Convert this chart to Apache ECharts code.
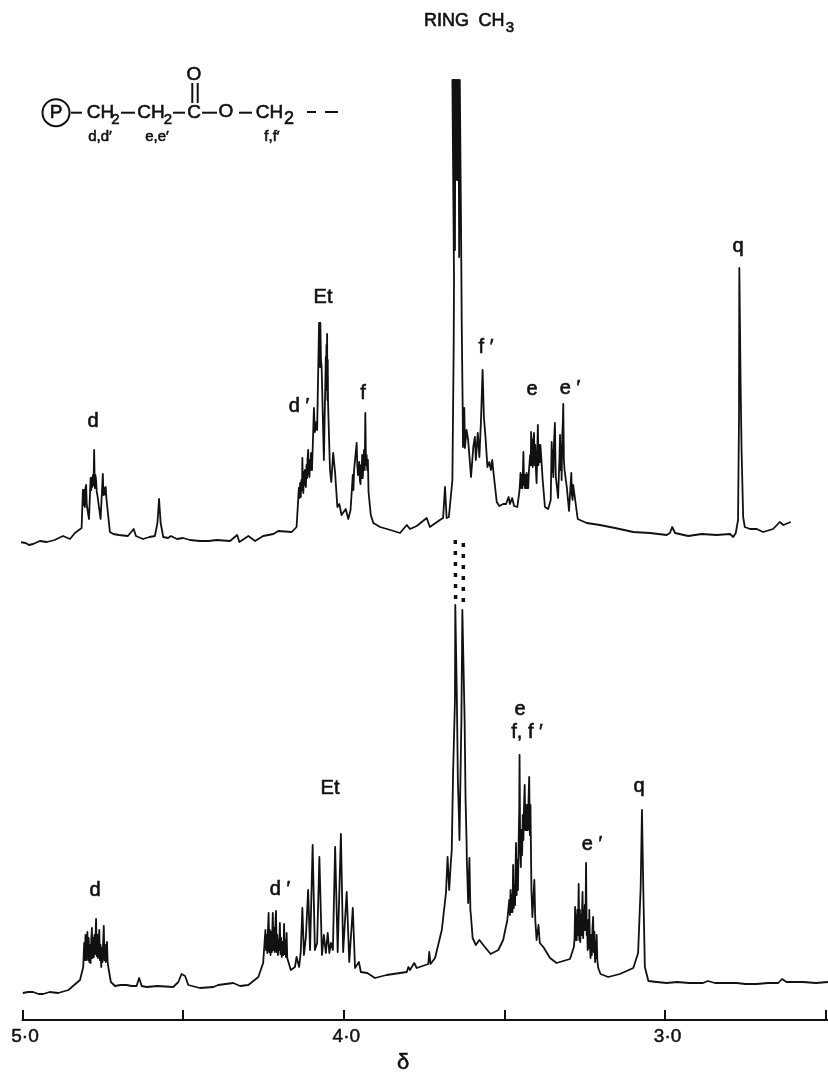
<!DOCTYPE html>
<html><head><meta charset="utf-8">
<style>html,body{margin:0;padding:0;background:#fff}#c{width:828px;height:1072px}</style>
<script src="https://cdn.jsdelivr.net/npm/echarts@6/dist/echarts.min.js"></script></head>
<body><div id="c"></div>
<script>
const tickShifts = [5, 4.5, 4, 3.5, 3, 2.5];
const labelShifts = [5, 4, 3];
const labelTexts = {5: '5·0', 4: '4·0', 3: '3·0'};
const upperTrace = [[5.010,8],[4.990,7],[4.980,5],[4.967,6],[4.946,9],[4.924,8],[4.900,10],[4.874,14],[4.852,11],[4.837,17],[4.816,22],[4.812,60],[4.810,45],[4.808,60],[4.806,43],[4.804,62],[4.802,65],[4.800,45],[4.798,43],[4.793,31],[4.788,72],[4.786,60],[4.785,72],[4.783,63],[4.781,75],[4.779,65],[4.777,100],[4.775,62],[4.773,75],[4.771,70],[4.769,58],[4.767,55],[4.757,31],[4.750,76],[4.748,55],[4.746,53],[4.744,62],[4.742,55],[4.741,63],[4.739,52],[4.737,50],[4.728,18],[4.717,16],[4.700,15],[4.672,14],[4.654,21],[4.647,14],[4.625,11],[4.605,13],[4.588,14],[4.580,27],[4.575,51],[4.570,27],[4.562,13],[4.547,12],[4.538,14],[4.519,11],[4.500,12],[4.479,10],[4.448,9],[4.420,9],[4.396,10],[4.390,8],[4.354,9],[4.332,15],[4.325,8],[4.297,14],[4.276,9],[4.251,14],[4.219,16],[4.204,19],[4.199,17],[4.162,18],[4.147,23],[4.142,50],[4.140,62],[4.138,52],[4.136,67],[4.134,53],[4.132,70],[4.130,60],[4.129,92],[4.127,60],[4.126,57],[4.124,78],[4.122,65],[4.121,80],[4.119,68],[4.118,63],[4.116,85],[4.114,72],[4.113,90],[4.111,100],[4.109,78],[4.107,73],[4.105,90],[4.104,80],[4.102,97],[4.100,85],[4.099,80],[4.096,110],[4.093,142],[4.090,118],[4.087,117],[4.085,128],[4.083,120],[4.077,227],[4.076,190],[4.075,227],[4.074,183],[4.073,227],[4.072,227],[4.071,190],[4.069,183],[4.062,90],[4.056,193],[4.055,160],[4.054,205],[4.053,170],[4.052,216],[4.051,150],[4.050,190],[4.049,147],[4.043,80],[4.039,68],[4.033,97],[4.027,77],[4.020,43],[4.014,46],[4.007,35],[3.994,41],[3.986,31],[3.979,40],[3.972,75],[3.970,60],[3.968,80],[3.966,80],[3.960,107],[3.958,85],[3.956,75],[3.954,78],[3.952,88],[3.950,70],[3.948,66],[3.946,85],[3.944,72],[3.943,95],[3.941,72],[3.939,70],[3.937,100],[3.935,80],[3.933,137],[3.931,85],[3.929,95],[3.927,80],[3.925,90],[3.923,58],[3.916,35],[3.908,27],[3.887,23],[3.855,20],[3.825,17],[3.804,25],[3.794,21],[3.773,24],[3.742,32],[3.732,23],[3.701,30],[3.691,32],[3.685,63],[3.680,32],[3.673,33],[3.662,70],[3.658,203],[3.657,270],[3.659,350],[3.662,470],[3.660,390],[3.659,470],[3.657,380],[3.656,470],[3.654,300],[3.653,470],[3.651,375],[3.650,470],[3.648,370],[3.646,470],[3.645,370],[3.643,470],[3.641,293],[3.639,470],[3.638,470],[3.635,320],[3.633,227],[3.631,170],[3.630,143],[3.628,142],[3.629,103],[3.625,142],[3.623,102],[3.618,120],[3.613,110],[3.604,73],[3.597,103],[3.592,113],[3.589,90],[3.583,117],[3.578,93],[3.573,130],[3.568,180],[3.564,133],[3.559,113],[3.553,83],[3.547,88],[3.542,80],[3.538,90],[3.535,80],[3.524,48],[3.516,44],[3.504,46],[3.495,46],[3.487,53],[3.483,46],[3.476,52],[3.470,44],[3.460,43],[3.454,57],[3.452,65],[3.450,77],[3.448,62],[3.446,75],[3.444,62],[3.442,85],[3.441,98],[3.439,65],[3.437,75],[3.436,62],[3.434,75],[3.432,62],[3.431,77],[3.429,62],[3.427,75],[3.426,62],[3.424,78],[3.421,80],[3.420,95],[3.418,85],[3.417,118],[3.415,85],[3.413,110],[3.412,83],[3.410,110],[3.408,117],[3.406,85],[3.404,105],[3.402,80],[3.400,67],[3.398,95],[3.396,125],[3.394,85],[3.392,105],[3.390,88],[3.388,105],[3.386,107],[3.384,85],[3.381,70],[3.374,43],[3.364,41],[3.356,50],[3.353,108],[3.351,78],[3.349,100],[3.348,73],[3.346,105],[3.343,127],[3.341,85],[3.340,73],[3.333,52],[3.329,90],[3.327,115],[3.325,80],[3.323,105],[3.322,70],[3.320,115],[3.318,130],[3.317,146],[3.315,90],[3.313,80],[3.306,63],[3.299,39],[3.292,77],[3.290,55],[3.288,50],[3.286,65],[3.284,63],[3.279,48],[3.272,31],[3.244,27],[3.203,25],[3.156,22],[3.099,18],[3.047,17],[2.995,15],[2.985,17],[2.978,23],[2.969,17],[2.928,14],[2.886,16],[2.840,15],[2.798,16],[2.788,13],[2.780,17],[2.773,30],[2.770,133],[2.769,282],[2.765,167],[2.762,100],[2.757,33],[2.752,23],[2.736,21],[2.715,21],[2.695,18],[2.664,21],[2.643,28],[2.632,25],[2.609,28]];
const lowerTrace = [[4.999,27],[4.983,28],[4.967,28],[4.950,26],[4.936,26],[4.915,28],[4.889,27],[4.857,30],[4.821,40],[4.811,53],[4.808,77],[4.806,60],[4.804,85],[4.802,60],[4.800,78],[4.798,88],[4.796,60],[4.794,82],[4.792,58],[4.790,75],[4.788,57],[4.786,80],[4.784,92],[4.782,62],[4.780,82],[4.778,63],[4.776,85],[4.774,66],[4.772,90],[4.771,101],[4.769,64],[4.767,85],[4.765,62],[4.763,80],[4.761,90],[4.759,60],[4.757,75],[4.755,53],[4.753,72],[4.751,58],[4.749,78],[4.747,94],[4.745,60],[4.743,75],[4.741,58],[4.739,72],[4.737,78],[4.735,58],[4.733,53],[4.725,38],[4.712,34],[4.695,35],[4.676,35],[4.660,34],[4.645,34],[4.637,42],[4.629,34],[4.613,33],[4.580,34],[4.531,33],[4.515,38],[4.505,46],[4.494,44],[4.484,35],[4.448,32],[4.406,33],[4.391,35],[4.344,37],[4.323,34],[4.297,35],[4.266,43],[4.251,57],[4.244,90],[4.242,70],[4.240,85],[4.238,67],[4.236,90],[4.234,107],[4.232,68],[4.230,90],[4.228,65],[4.226,88],[4.224,68],[4.222,95],[4.221,107],[4.219,70],[4.217,92],[4.215,68],[4.213,95],[4.211,109],[4.209,68],[4.207,85],[4.205,65],[4.203,80],[4.201,70],[4.199,97],[4.197,66],[4.195,82],[4.193,63],[4.191,78],[4.188,65],[4.186,96],[4.184,66],[4.182,80],[4.180,63],[4.178,87],[4.176,62],[4.173,62],[4.165,50],[4.152,53],[4.147,63],[4.139,53],[4.134,68],[4.129,112],[4.124,65],[4.118,83],[4.111,130],[4.105,70],[4.097,175],[4.090,70],[4.083,77],[4.076,163],[4.068,65],[4.062,85],[4.056,67],[4.050,87],[4.045,67],[4.040,77],[4.034,70],[4.027,173],[4.019,68],[4.009,186],[4.002,68],[3.991,128],[3.983,58],[3.972,112],[3.965,52],[3.953,58],[3.947,48],[3.927,47],[3.903,42],[3.867,45],[3.804,48],[3.799,53],[3.794,50],[3.781,57],[3.773,52],[3.737,56],[3.734,68],[3.730,56],[3.716,62],[3.695,90],[3.682,127],[3.677,163],[3.672,130],[3.667,157],[3.664,170],[3.660,245],[3.654,320],[3.653,415],[3.650,415],[3.648,320],[3.645,240],[3.642,207],[3.640,180],[3.639,180],[3.637,240],[3.634,300],[3.631,410],[3.628,410],[3.624,300],[3.621,220],[3.618,180],[3.617,160],[3.613,117],[3.609,162],[3.607,162],[3.606,110],[3.604,103],[3.599,82],[3.589,75],[3.578,80],[3.561,73],[3.543,66],[3.519,70],[3.504,80],[3.491,100],[3.485,120],[3.483,105],[3.481,130],[3.479,108],[3.477,125],[3.475,108],[3.473,155],[3.471,112],[3.469,135],[3.467,115],[3.465,160],[3.464,177],[3.462,125],[3.460,160],[3.458,130],[3.456,175],[3.454,210],[3.453,265],[3.451,170],[3.449,153],[3.447,190],[3.445,165],[3.443,205],[3.441,180],[3.439,215],[3.437,235],[3.435,190],[3.433,215],[3.431,190],[3.429,215],[3.427,190],[3.425,220],[3.423,243],[3.421,185],[3.419,215],[3.418,183],[3.416,130],[3.413,103],[3.407,140],[3.404,100],[3.400,80],[3.394,95],[3.390,77],[3.379,73],[3.358,62],[3.338,57],[3.296,61],[3.284,73],[3.282,80],[3.280,113],[3.278,80],[3.276,105],[3.275,80],[3.273,110],[3.271,85],[3.269,136],[3.267,80],[3.265,110],[3.264,78],[3.262,105],[3.260,85],[3.258,115],[3.257,128],[3.255,82],[3.253,110],[3.252,90],[3.250,115],[3.248,90],[3.246,157],[3.244,85],[3.243,100],[3.241,70],[3.239,100],[3.237,72],[3.236,110],[3.234,75],[3.232,62],[3.230,85],[3.228,65],[3.226,92],[3.224,103],[3.222,68],[3.220,88],[3.218,58],[3.216,78],[3.214,62],[3.213,85],[3.211,60],[3.208,52],[3.201,46],[3.177,43],[3.141,46],[3.099,52],[3.084,67],[3.076,133],[3.072,210],[3.068,133],[3.063,53],[3.052,39],[3.026,38],[2.995,37],[2.963,38],[2.925,37],[2.882,37],[2.867,39],[2.845,37],[2.810,37],[2.777,37],[2.750,36],[2.715,36],[2.680,37],[2.648,37],[2.636,41],[2.622,38],[2.571,38],[2.530,37],[2.493,38]];
const offscaleLeft = [[3.653,480],[3.652,420]];
const offscaleRight = [[3.628,477],[3.628,417]];

const FONT = '"Liberation Sans", Arial, sans-serif';
function txt(x, y, s, size, extra) {
  return {type:'text', x, y, z:20, style:Object.assign({text:s, fill:'#111', font:`${size||20}px ${FONT}`,
    textAlign:'center', textVerticalAlign:'middle', stroke:'#111', lineWidth:0.6}, extra||{})};
}
function seg(x1,y1,x2,y2){return {type:'line', z:20, shape:{x1,y1,x2,y2}, style:{stroke:'#111', lineWidth:2}};}

const graphics = [
  txt(446.5,21.5,'RING',18), txt(491.5,21.5,'CH',18), txt(510,28,'3',15),
  {type:'circle', z:20, shape:{cx:56,cy:112.7,r:13.5}, style:{fill:'none',stroke:'#111',lineWidth:2}},
  txt(56,113,'P',19), seg(71,112.7,82,112.7),
  txt(100.5,113,'CH',19), txt(115.5,120,'2',15), seg(121,112.7,135,112.7),
  txt(151,113,'CH',19), txt(168,120,'2',15), seg(173,112.7,185,112.7),
  txt(194,113,'C',19), seg(202,112.7,217,112.7),
  txt(226,112,'O',19), seg(239,112.7,252,112.7),
  txt(269.5,113,'CH',19), txt(289,119,'2',18), seg(307,112,316,112), seg(325,112,338,112),
  seg(192.3,83,192.3,103), seg(197.7,83,197.7,103), txt(194,75,'O',19),
  txt(100,137,'d,d′',15), txt(157,137,'e,e′',15), txt(272,137,'f,f′',15),
  txt(93,421,'d'), txt(299,406,'d ′'), txt(323,297,'Et'), txt(363,393,'f'), txt(486,347,'f ′'),
  txt(532,389,'e'), txt(570,388,'e ′'), txt(738,246,'q'),
  txt(95,890,'d'), txt(280,889,'d ′'), txt(330,788,'Et'), txt(520,709,'e'), txt(527,732,'f, f ′'),
  txt(592,844,'e ′'), txt(639,786,'q'), txt(403,1063,'δ',22)
];
const trace = (data, gi) => ({type:'line', xAxisIndex:gi, yAxisIndex:gi, data, symbol:'none', clip:false, animation:false,
  lineStyle:{color:'#111', width:1.8, join:'round'}});
const dotted = data => ({type:'line', xAxisIndex:1, yAxisIndex:1, data, symbol:'none', clip:false, animation:false,
  lineStyle:{color:'#111', width:3.5, type:[4,7]}});
const chart = echarts.init(document.getElementById('c'), null, {renderer:'canvas'});
const xBase = {type:'value', inverse:true, min:2.493, max:5, splitLine:{show:false}};
chart.setOption({
  backgroundColor:'#fff', animation:false,
  grid:[{left:22.5,right:0,top:50,height:500},{left:22.5,right:0,top:520,height:500}],
  xAxis:[
    Object.assign({gridIndex:0, show:false}, xBase),
    Object.assign({gridIndex:1,
      axisLine:{show:true,onZero:false,lineStyle:{color:'#111',width:2}},
      axisTick:{show:true,inside:true,length:10,customValues:tickShifts,lineStyle:{color:'#111',width:2}},
      axisLabel:{show:true,customValues:labelShifts,margin:7,color:'#111',fontSize:19,fontFamily:'Liberation Sans',
        padding:[0,0,0,5],textBorderColor:'#111',textBorderWidth:0.5,
        formatter:v=>labelTexts[v]||''}}, xBase)
  ],
  yAxis:[{gridIndex:0,type:'value',min:0,max:500,show:false},{gridIndex:1,type:'value',min:0,max:500,show:false}],
  series:[trace(upperTrace,0),trace(lowerTrace,1),dotted(offscaleLeft),dotted(offscaleRight)],
  graphic:{elements:graphics}
});
</script></body></html>
